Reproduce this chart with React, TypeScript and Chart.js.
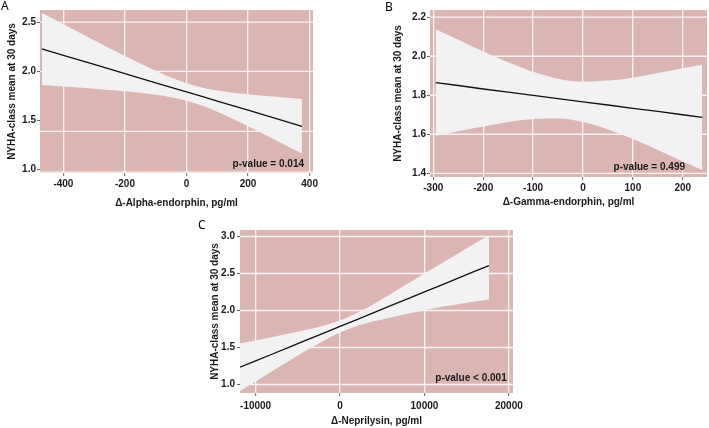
import React, { useEffect, useRef } from "react";
import { Chart, registerables } from "chart.js";

Chart.register(...registerables);

// ---------- Panel A: Δ-Alpha-endorphin ----------
const alphaX = [-470, -400, -300, -200, -100, -50, 0, 50, 100, 200, 300, 375];
const alphaFit = [2.227, 2.162, 2.069, 1.976, 1.883, 1.837, 1.79, 1.744, 1.697, 1.604, 1.511, 1.441];
const alphaUpper = [2.593, 2.479, 2.316, 2.156, 2.005, 1.937, 1.879, 1.836, 1.805, 1.766, 1.738, 1.719];
const alphaLower = [1.861, 1.845, 1.822, 1.796, 1.761, 1.737, 1.701, 1.652, 1.589, 1.442, 1.284, 1.163];
const alphaXTicks = [-400, -200, 0, 200, 400];
const alphaYTicks = [1.0, 1.5, 2.0, 2.5];
const alphaYGrid = [0.975, 1.39, 2.0, 2.5];

// ---------- Panel B: Δ-Gamma-endorphin ----------
const gammaX = [-295, -250, -200, -150, -100, -50, 0, 50, 100, 150, 200, 239];
const gammaFit = [1.865, 1.85, 1.832, 1.816, 1.799, 1.783, 1.766, 1.75, 1.733, 1.717, 1.7, 1.687];
const gammaUpper = [2.138, 2.084, 2.024, 1.969, 1.92, 1.885, 1.869, 1.875, 1.89, 1.914, 1.939, 1.957];
const gammaLower = [1.592, 1.616, 1.64, 1.663, 1.678, 1.681, 1.663, 1.625, 1.576, 1.52, 1.461, 1.417];
const gammaXTicks = [-300, -200, -100, 0, 100, 200];
const gammaYTicks = [1.4, 1.6, 1.8, 2.0, 2.2];
const gammaYGrid = [1.4, 1.6, 1.8, 2.0, 2.2];

// ---------- Panel C: Δ-Neprilysin ----------
const nepX = [-11850, -10000, -8000, -6000, -4000, -2000, 0, 2000, 4000, 6000, 8000, 10000, 12000, 14000, 16000, 17650];
const nepFit = [1.233, 1.319, 1.412, 1.505, 1.599, 1.692, 1.785, 1.878, 1.971, 2.065, 2.158, 2.251, 2.344, 2.437, 2.531, 2.607];
const nepUpper = [1.553, 1.596, 1.641, 1.688, 1.739, 1.795, 1.866, 1.966, 2.088, 2.223, 2.36, 2.5, 2.636, 2.772, 2.91, 3.018];
const nepLower = [0.911, 1.042, 1.183, 1.322, 1.459, 1.589, 1.704, 1.79, 1.854, 1.907, 1.956, 2.002, 2.05, 2.085, 2.12, 2.148];
const nepXTicks = [-10000, 0, 10000, 20000];
const nepYTicks = [1.0, 1.5, 2.0, 2.5, 3.0];
const nepYGrid = [1.0, 1.5, 2.0, 2.5, 3.0];

const PANEL_BG = "#dbb5b2";
const RIBBON = "#f2f2f2";
const GRID = "rgba(255,250,250,0.92)";
const FONT = '"Liberation Sans", Arial, sans-serif';

const panelPlugin = {
  id: "panelDeco",
  beforeDraw(chart: any) {
    const { ctx, chartArea: a } = chart;
    ctx.save();
    ctx.fillStyle = PANEL_BG;
    ctx.fillRect(a.left, a.top, a.right - a.left, a.bottom - a.top);
    ctx.restore();
  },
  beforeDatasetsDraw(chart: any, _a: any, opts: any) {
    const { ctx, chartArea: a, scales } = chart;
    ctx.save();
    ctx.strokeStyle = GRID;
    ctx.lineWidth = 1.3;
    (opts.yGrid || []).forEach((v: number) => {
      const py = scales.y.getPixelForValue(v);
      ctx.beginPath();
      ctx.moveTo(a.left, py);
      ctx.lineTo(a.right, py);
      ctx.stroke();
    });
    ctx.restore();
  },
  afterDatasetsDraw(chart: any, _a: any, opts: any) {
    const { ctx, chartArea: a } = chart;
    ctx.save();
    ctx.font = `bold 10px ${FONT}`;
    ctx.fillStyle = "#1a1a1a";
    ctx.textAlign = "right";
    ctx.textBaseline = "middle";
    ctx.fillText(opts.pText, a.right - opts.pdx, a.bottom - opts.pdy);
    ctx.restore();
  },
};

type PanelProps = {
  left: number; top: number; width: number; height: number;
  pad: { left: number; top: number; right: number; bottom: number };
  yWidth: number; xHeight: number;
  xs: number[]; fit: number[]; upper: number[]; lower: number[];
  xMin: number; xMax: number; yMin: number; yMax: number;
  xTicks: number[]; yTicks: number[]; yGrid: number[];
  xTitle: string; yTitle: string;
  yTitlePad: number; xTitlePad: number; xTickPad: number; yTickPad: number;
  pText: string; pdx: number; pdy: number;
};

function Panel(p: PanelProps) {
  const ref = useRef<HTMLCanvasElement>(null);
  useEffect(() => {
    const pts = (ys: number[]) => p.xs.map((x, i) => ({ x, y: ys[i] }));
    const tickFont = { family: FONT, size: 10, weight: "bold" as const };
    const chart = new Chart(ref.current as HTMLCanvasElement, {
      type: "line",
      data: {
        datasets: [
          // fitted line first so it is painted on top
          { data: pts(p.fit), borderWidth: 1.3, borderColor: "#111", pointRadius: 0, fill: false },
          { data: pts(p.lower), borderWidth: 0, borderColor: "rgba(0,0,0,0)", pointRadius: 0, fill: false, cubicInterpolationMode: "monotone" },
          { data: pts(p.upper), borderWidth: 0, borderColor: "rgba(0,0,0,0)", pointRadius: 0, fill: "-1", backgroundColor: RIBBON, cubicInterpolationMode: "monotone" },
        ],
      } as any,
      options: {
        animation: false,
        responsive: false,
        devicePixelRatio: 1,
        events: [],
        layout: { padding: p.pad },
        plugins: {
          legend: { display: false },
          tooltip: { enabled: false },
          panelDeco: { yGrid: p.yGrid, pText: p.pText, pdx: p.pdx, pdy: p.pdy },
        } as any,
        scales: {
          x: {
            type: "linear",
            min: p.xMin,
            max: p.xMax,
            afterBuildTicks: (axis: any) => { axis.ticks = p.xTicks.map((v) => ({ value: v })); },
            afterFit: (s: any) => { s.height = p.xHeight; },
            ticks: { font: tickFont, color: "#1a1a1a", padding: p.xTickPad, autoSkip: false, maxRotation: 0, callback: (v: any) => String(v) },
            grid: { color: GRID, lineWidth: 1.3, drawTicks: true, tickLength: 3, tickColor: "#666", tickWidth: 1 },
            border: { display: false },
            title: { display: true, text: p.xTitle, font: tickFont, color: "#1a1a1a", padding: { top: 0, bottom: p.xTitlePad } },
          },
          y: {
            type: "linear",
            min: p.yMin,
            max: p.yMax,
            afterBuildTicks: (axis: any) => { axis.ticks = p.yTicks.map((v) => ({ value: v })); },
            afterFit: (s: any) => { s.width = p.yWidth; },
            ticks: { font: tickFont, color: "#1a1a1a", padding: p.yTickPad, autoSkip: false, callback: (v: any) => Number(v).toFixed(1) },
            grid: { drawOnChartArea: false, drawTicks: true, tickLength: 3, tickColor: "#666", tickWidth: 1 },
            border: { display: false },
            title: { display: true, text: p.yTitle, font: tickFont, color: "#1a1a1a", padding: { top: p.yTitlePad, bottom: 0 } },
          },
        },
      } as any,
      plugins: [panelPlugin as any],
    });
    return () => chart.destroy();
  }, []);
  return (
    <div style={{ position: "absolute", left: p.left, top: p.top, width: p.width, height: p.height }}>
      <canvas ref={ref} width={p.width} height={p.height} style={{ display: "block", width: p.width, height: p.height }} />
    </div>
  );
}

const letterStyle: React.CSSProperties = {
  position: "absolute",
  fontFamily: '"Noto Sans", sans-serif',
  fontSize: 12,
  lineHeight: "12px",
  color: "#000",
};

export default function App() {
  return (
    <div style={{ position: "absolute", left: 0, top: 0, width: 709, height: 428, background: "#fff", overflow: "hidden" }}>
      <Panel
        left={0} top={0} width={340} height={215}
        pad={{ left: 0, top: 10, right: 27, bottom: 0 }}
        yWidth={40} xHeight={42}
        xs={alphaX} fit={alphaFit} upper={alphaUpper} lower={alphaLower}
        xMin={-476} xMax={411} yMin={0.966} yMax={2.623}
        xTicks={alphaXTicks} yTicks={alphaYTicks} yGrid={alphaYGrid}
        xTitle="Δ-Alpha-endorphin, pg/ml" yTitle="NYHA-class mean at 30 days"
        yTitlePad={6} xTitlePad={6} xTickPad={2} yTickPad={1}
        pText="p-value = 0.014" pdx={9} pdy={8.5}
      />
      <Panel
        left={350} top={0} width={359} height={215}
        pad={{ left: 36, top: 10, right: 2, bottom: 0 }}
        yWidth={44} xHeight={38}
        xs={gammaX} fit={gammaFit} upper={gammaUpper} lower={gammaLower}
        xMin={-306.6} xMax={248.5} yMin={1.381} yMax={2.237}
        xTicks={gammaXTicks} yTicks={gammaYTicks} yGrid={gammaYGrid}
        xTitle="Δ-Gamma-endorphin, pg/ml" yTitle="NYHA-class mean at 30 days"
        yTitlePad={6} xTitlePad={7} xTickPad={2} yTickPad={1}
        pText="p-value = 0.499" pdx={22} pdy={9.7}
      />
      <Panel
        left={160} top={210} width={370} height={218}
        pad={{ left: 43, top: 20, right: 17, bottom: 0 }}
        yWidth={37} xHeight={35}
        xs={nepX} fit={nepFit} upper={nepUpper} lower={nepLower}
        xMin={-11850} xMax={20490} yMin={0.885} yMax={3.088}
        xTicks={nepXTicks} yTicks={nepYTicks} yGrid={nepYGrid}
        xTitle="Δ-Neprilysin, pg/ml" yTitle="NYHA-class mean at 30 days"
        yTitlePad={6} xTitlePad={1} xTickPad={4} yTickPad={2}
        pText="p-value < 0.001" pdx={6.3} pdy={14.7}
      />
      <div style={{ ...letterStyle, left: 1, top: 0 }}>A</div>
      <div style={{ ...letterStyle, left: 385, top: 1 }}>B</div>
      <div style={{ ...letterStyle, left: 198, top: 219 }}>C</div>
    </div>
  );
}
